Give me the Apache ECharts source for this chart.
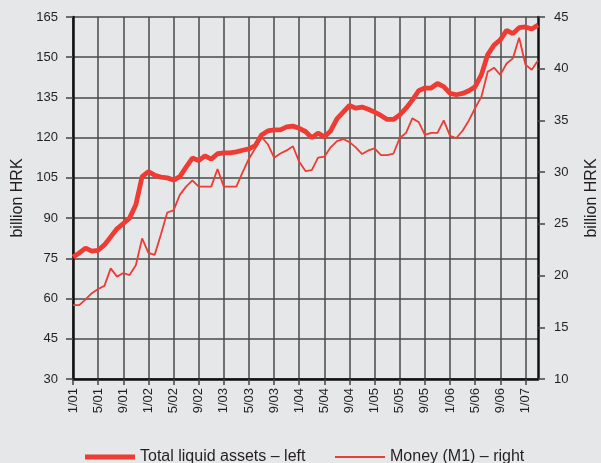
<!DOCTYPE html>
<html>
<head>
<meta charset="utf-8">
<script src="https://cdn.jsdelivr.net/npm/echarts@6/dist/echarts.min.js"></script>
<style>
  html, body { margin: 0; padding: 0; background: #e6e7e8; }
  #chart { width: 601px; height: 463px; }
</style>
</head>
<body>
<div id="chart"></div>
<script>
// monthly, 1/01 .. 3/07
const months = [
  "1/01","2/01","3/01","4/01","5/01","6/01","7/01","8/01","9/01","10/01","11/01","12/01",
  "1/02","2/02","3/02","4/02","5/02","6/02","7/02","8/02","9/02","10/02","11/02","12/02",
  "1/03","2/03","3/03","4/03","5/03","6/03","7/03","8/03","9/03","10/03","11/03","12/03",
  "1/04","2/04","3/04","4/04","5/04","6/04","7/04","8/04","9/04","10/04","11/04","12/04",
  "1/05","2/05","3/05","4/05","5/05","6/05","7/05","8/05","9/05","10/05","11/05","12/05",
  "1/06","2/06","3/06","4/06","5/06","6/06","7/06","8/06","9/06","10/06","11/06","12/06",
  "1/07","2/07","3/07"
];

// billion HRK, left axis
const totalLiquidAssets = [
  75.5, 77.0, 78.8, 77.7, 78.0, 80.0, 83.0, 86.0, 88.0, 90.0, 95.0, 105.5,
  107.3, 106.0, 105.3, 105.0, 104.2, 105.5, 109.0, 112.4, 111.5, 113.2, 112.0, 114.0,
  114.3, 114.3, 114.7, 115.3, 115.8, 117.0, 121.0, 122.5, 122.9, 122.9, 124.0, 124.3,
  123.5, 122.3, 120.0, 121.7, 120.3, 122.5, 127.0, 129.5, 132.0, 131.0, 131.4, 130.6,
  129.5, 128.3, 126.8, 126.8, 128.5, 131.0, 134.0, 137.5, 138.5, 138.5, 140.2, 139.0,
  136.5, 136.0, 136.5, 137.5, 139.0, 143.5, 151.0, 154.5, 156.5, 160.0, 158.8, 161.0,
  161.3, 160.5, 162.0
];

// billion HRK, right axis
const moneyM1 = [
  17.15, 17.15, 17.7, 18.3, 18.7, 19.0, 20.7, 19.9, 20.25, 20.05, 21.0, 23.6,
  22.2, 22.0, 24.0, 26.1, 26.3, 27.8, 28.6, 29.2, 28.6, 28.6, 28.6, 30.3,
  28.6, 28.6, 28.6, 30.0, 31.3, 32.3, 33.4, 32.7, 31.4, 31.8, 32.1, 32.5,
  31.0, 30.1, 30.2, 31.4, 31.5, 32.4, 33.0, 33.2, 32.9, 32.4, 31.75, 32.1,
  32.3, 31.65, 31.65, 31.8, 33.3, 33.8, 35.2, 34.85, 33.6, 33.8, 33.8, 35.0,
  33.5, 33.3, 34.0, 35.0, 36.2, 37.3, 39.7, 40.1, 39.4, 40.5, 41.0, 43.0,
  40.4, 39.9, 40.8
];

const font = "'Liberation Sans', Arial, sans-serif";
const red = "#ee3b33";
const gridColor = "#4a4a4a";
const textColor = "#231f20";

const chart = echarts.init(document.getElementById("chart"));

chart.setOption({
  backgroundColor: "#e6e7e8",
  animation: false,
  textStyle: { fontFamily: font, color: textColor },
  grid: { left: 73, right: 63, top: 17, bottom: 84, containLabel: false, outerBoundsMode: "none" },
  // two legends so each icon gets its own line thickness
  legend: [
    {
      left: 80,
      top: 444,
      icon: "rect",
      itemWidth: 50,
      itemHeight: 5,
      itemGap: 8,
      textStyle: { fontSize: 16, color: textColor, fontFamily: font },
      data: ["Total liquid assets – left"]
    },
    {
      left: 330,
      top: 444,
      icon: "rect",
      itemWidth: 50,
      itemHeight: 2,
      textStyle: { fontSize: 16, color: textColor, fontFamily: font },
      data: ["Money (M1) – right"]
    }
  ],
  xAxis: {
    type: "category",
    data: months,
    boundaryGap: false,
    axisLine: { lineStyle: { color: "#111", width: 2.5 } },
    axisTick: { interval: 3, length: 6, lineStyle: { color: "#444", width: 1.5 } },
    axisLabel: { interval: 3, rotate: 90, margin: 9, fontSize: 13, color: textColor },
    splitLine: { show: true, interval: 3, lineStyle: { color: gridColor, width: 1.5 } }
  },
  yAxis: [
    {
      type: "value",
      min: 30, max: 165, interval: 15,
      name: "billion HRK",
      nameLocation: "middle",
      nameRotate: 90,
      nameGap: 45,
      nameTextStyle: { fontSize: 16, color: textColor },
      axisLine: { show: true, lineStyle: { color: "#111", width: 2.5 } },
      axisTick: { show: true, length: 7, lineStyle: { color: "#444", width: 1.5 } },
      axisLabel: { margin: 15, fontSize: 13, color: textColor },
      splitLine: { show: true, lineStyle: { color: gridColor, width: 1.5 } }
    },
    {
      type: "value",
      min: 10, max: 45, interval: 5,
      position: "right",
      name: "billion HRK",
      nameLocation: "middle",
      nameRotate: 90,
      nameGap: 46,
      nameTextStyle: { fontSize: 16, color: textColor },
      axisLine: { show: true, lineStyle: { color: "#111", width: 2.5 } },
      axisTick: { show: true, length: 7, lineStyle: { color: "#444", width: 1.5 } },
      axisLabel: { margin: 16, fontSize: 13, color: textColor },
      splitLine: { show: false }
    }
  ],
  series: [
    {
      name: "Total liquid assets – left",
      type: "line",
      yAxisIndex: 0,
      data: totalLiquidAssets,
      symbol: "none",
      z: 3,
      lineStyle: { color: red, width: 4.8 },
      itemStyle: { color: red }
    },
    {
      name: "Money (M1) – right",
      type: "line",
      yAxisIndex: 1,
      data: moneyM1,
      symbol: "none",
      z: 2,
      lineStyle: { color: red, width: 1.8 },
      itemStyle: { color: red }
    }
  ]
});
</script>
</body>
</html>
